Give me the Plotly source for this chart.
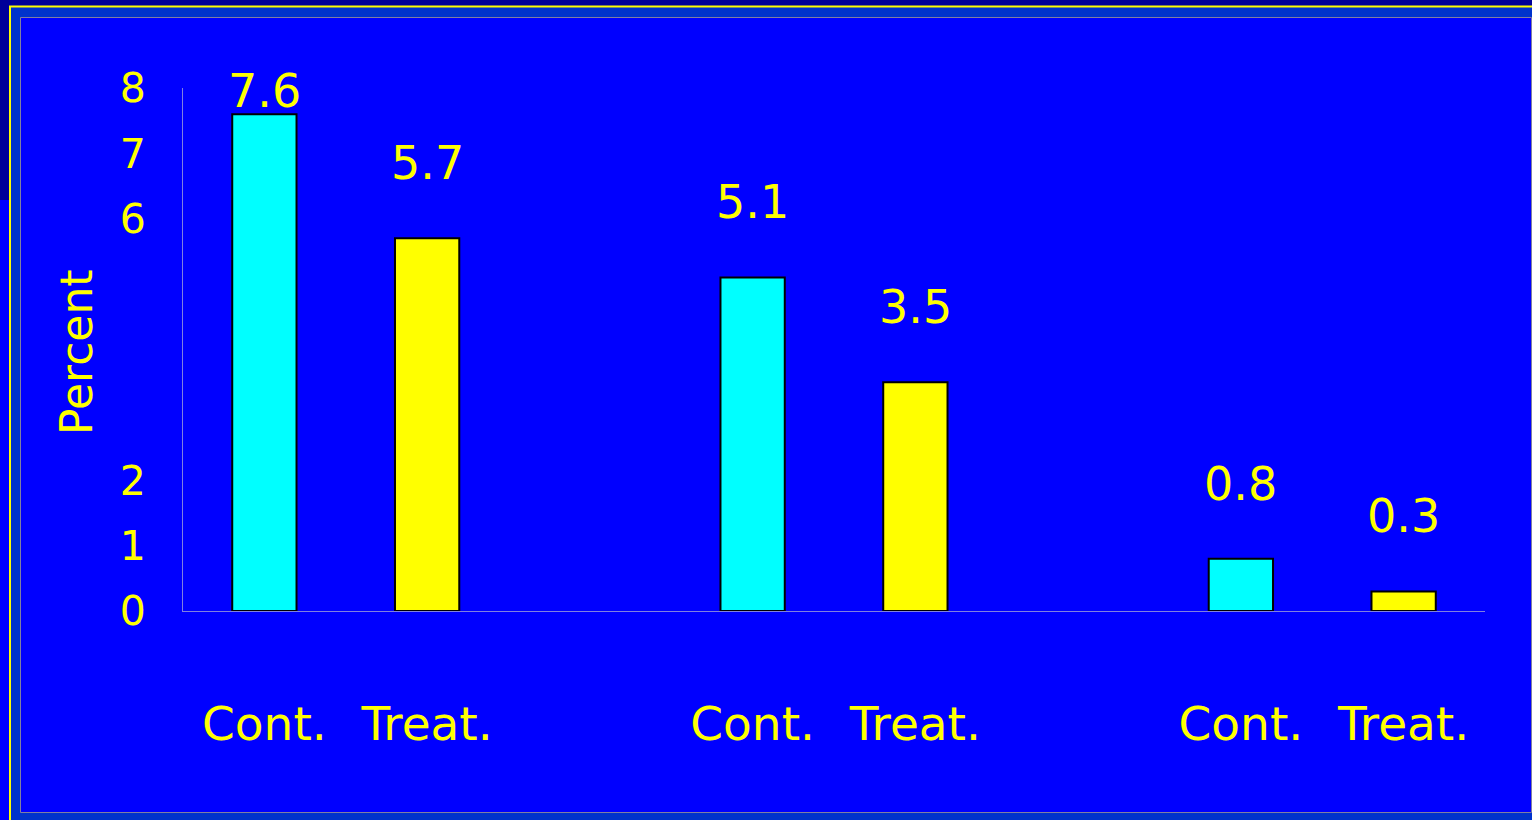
import plotly.graph_objects as go

# ---- data ----
categories = ["Cont.", "Treat.", "Cont.", "Treat.", "Cont.", "Treat."]
positions = [0, 1, 3, 4, 6, 7]
values = [7.6, 5.7, 5.1, 3.5, 0.8, 0.3]
value_labels = ["7.6", "5.7", "5.1", "3.5", "0.8", "0.3"]
bar_colors = ["#00FFFF", "#FFFF00", "#00FFFF", "#FFFF00", "#00FFFF", "#FFFF00"]
y_tickvals = [0, 1, 2, 6, 7, 8]

W, H = 1532, 820
L, R, T, B = 183, 1485, 88, 611  # plot area in pixels
YELLOW = "#FFFF00"
FONT = "DejaVu Sans"

def px(x):
    return (x - L) / (R - L)

def py(y):
    return (B - y) / (B - T)

fig = go.Figure()
fig.add_trace(go.Bar(
    x=positions, y=values, width=0.395,
    marker=dict(color=bar_colors, line=dict(color="black", width=2)),
    hoverinfo="skip",
))

# value labels above bars (kept inside top of axis)
annotations = []
for xp, v, t in zip(positions, values, value_labels):
    annotations.append(dict(
        x=xp, y=min(v + 1.15, 7.95), xref="x", yref="y", text=t,
        showarrow=False, yanchor="middle", xanchor="center",
        font=dict(family=FONT, size=46, color=YELLOW),
    ))
annotations.append(dict(
    x=px(76), y=py(352), xref="paper", yref="paper", text="Percent",
    textangle=-90, showarrow=False, xanchor="center", yanchor="middle",
    font=dict(family=FONT, size=44, color=YELLOW),
))

def rect(x0, y0, x1, y1, fill, line_color=None, lw=0):
    return dict(type="rect", xref="paper", yref="paper",
                x0=px(x0), x1=px(x1), y0=py(y0), y1=py(y1),
                fillcolor=fill, layer="below",
                line=dict(color=line_color or fill, width=lw))

shapes = [
    rect(0, 0, W, 6, "#000099"),
    rect(0, 0, 9, 200, "#000099"),
    rect(9, 5.5, W, H, YELLOW),
    rect(11, 7.5, W, H, "#0033CC"),
    rect(20.5, 17.5, 1531.5, 812.5, "#0000FF", "#8080A0", 1),
]

fig.update_layout(
    width=W, height=H,
    margin=dict(l=L, r=W - R, t=T, b=H - B),
    paper_bgcolor="#0000FF",
    plot_bgcolor="rgba(0,0,0,0)",
    showlegend=False,
    shapes=shapes,
    annotations=annotations,
    font=dict(family=FONT, color=YELLOW),
    xaxis=dict(
        range=[-0.5, 7.5], tickvals=positions, ticktext=categories,
        showgrid=False, zeroline=False, showline=True, linecolor="#8080E0",
        linewidth=1, ticks="", ticklabelstandoff=72,
        tickfont=dict(family=FONT, size=47, color=YELLOW),
    ),
    yaxis=dict(
        range=[0, 8], tickvals=y_tickvals, ticktext=[str(v) for v in y_tickvals],
        showgrid=False, zeroline=False, showline=True, linecolor="#8080E0",
        linewidth=1, ticks="", ticklabelstandoff=28,
        tickfont=dict(family=FONT, size=41, color=YELLOW),
    ),
)

fig.write_html("out.html")
